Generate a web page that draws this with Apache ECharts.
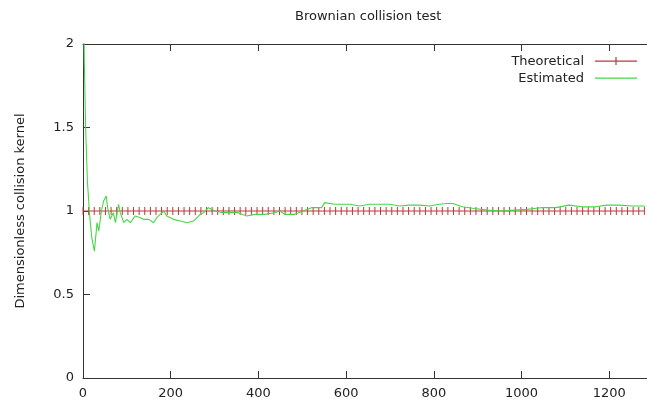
<!DOCTYPE html>
<html>
<head>
<meta charset="utf-8">
<script src="https://cdn.jsdelivr.net/npm/echarts@6/dist/echarts.min.js"></script>
<style>
html,body{margin:0;padding:0;background:#fff;}
#chart{width:647px;height:409px;}
</style>
</head>
<body>
<div id="chart"></div>
<script>
var titleText = 'Brownian collision test';
var yAxisTitle = 'Dimensionless collision kernel';
var seriesNames = ['Theoretical', 'Estimated'];
var xTicks = [0, 200, 400, 600, 800, 1000, 1200];
var yTicks = [0, 0.5, 1, 1.5, 2];

var theoreticalX = [0, 12.8, 25.6, 38.4, 51.2, 64, 76.8, 89.6, 102.4, 115.2, 128, 140.8, 153.6, 166.4, 179.2, 192, 204.8, 217.6, 230.4, 243.2, 256, 268.8, 281.6, 294.4, 307.2, 320, 332.8, 345.6, 358.4, 371.2, 384, 396.8, 409.6, 422.4, 435.2, 448, 460.8, 473.6, 486.4, 499.2, 512, 524.8, 537.6, 550.4, 563.2, 576, 588.8, 601.6, 614.4, 627.2, 640, 652.8, 665.6, 678.4, 691.2, 704, 716.8, 729.6, 742.4, 755.2, 768, 780.8, 793.6, 806.4, 819.2, 832, 844.8, 857.6, 870.4, 883.2, 896, 908.8, 921.6, 934.4, 947.2, 960, 972.8, 985.6, 998.4, 1011.2, 1024, 1036.8, 1049.6, 1062.4, 1075.2, 1088, 1100.8, 1113.6, 1126.4, 1139.2, 1152, 1164.8, 1177.6, 1190.4, 1203.2, 1216, 1228.8, 1241.6, 1254.4, 1267.2, 1280];
var theoreticalY = [1, 1, 1, 1, 1, 1, 1, 1, 1, 1, 1, 1, 1, 1, 1, 1, 1, 1, 1, 1, 1, 1, 1, 1, 1, 1, 1, 1, 1, 1, 1, 1, 1, 1, 1, 1, 1, 1, 1, 1, 1, 1, 1, 1, 1, 1, 1, 1, 1, 1, 1, 1, 1, 1, 1, 1, 1, 1, 1, 1, 1, 1, 1, 1, 1, 1, 1, 1, 1, 1, 1, 1, 1, 1, 1, 1, 1, 1, 1, 1, 1, 1, 1, 1, 1, 1, 1, 1, 1, 1, 1, 1, 1, 1, 1, 1, 1, 1, 1, 1, 1];

var estimatedX = [0, 3, 6, 10, 15, 20, 26, 32, 36, 42, 47, 53, 56, 62, 69, 74, 81, 85, 93, 100, 108, 119, 131, 138, 150, 153, 161, 168, 176, 184, 191, 206, 222, 237, 252, 267, 275, 286, 301, 320, 339, 354, 373, 392, 415, 437, 449, 460, 483, 502, 521, 544, 551, 574, 597, 608, 631, 653, 676, 699, 722, 744, 767, 790, 812, 831, 843, 865, 892, 922, 953, 983, 1013, 1028, 1047, 1078, 1108, 1138, 1169, 1195, 1222, 1252, 1282];
var estimatedY = [2.6, 1.9, 1.5, 1.18, 0.98, 0.84, 0.76, 0.93, 0.88, 1.0, 1.06, 1.09, 1.02, 0.95, 0.99, 0.93, 1.04, 0.99, 0.93, 0.95, 0.93, 0.97, 0.96, 0.95, 0.95, 0.94, 0.93, 0.96, 0.98, 1.0, 0.97, 0.95, 0.94, 0.93, 0.94, 0.98, 0.99, 1.02, 1.0, 0.99, 0.99, 0.99, 0.97, 0.98, 0.98, 0.99, 1.0, 0.98, 0.98, 1.0, 1.02, 1.02, 1.05, 1.04, 1.04, 1.04, 1.03, 1.04, 1.04, 1.04, 1.03, 1.035, 1.035, 1.03, 1.04, 1.045, 1.045, 1.025, 1.015, 1.005, 1.0, 1.005, 1.01, 1.015, 1.02, 1.02, 1.035, 1.025, 1.025, 1.035, 1.035, 1.03, 1.03];

var FONT = 'DejaVu Sans';
var AXIS_COLOR = '#333';
var RED = '#b83a3a';
var GREEN = '#45d845';

function pairs(xs, ys) { return xs.map(function (x, i) { return [x, ys[i]]; }); }
function plainNum(v) { return String(v); }

var chart = echarts.init(document.getElementById('chart'), null, {renderer: 'canvas'});
var xMin = xTicks[0], xMax = 1286;
var commonX = {
  type: 'value', min: xMin, max: xMax, interval: xTicks[1] - xTicks[0],
  splitLine: {show: false},
  axisLine: {show: true, onZero: false, lineStyle: {color: AXIS_COLOR, width: 1}},
  axisTick: {show: true, inside: true, length: 7, lineStyle: {color: AXIS_COLOR}}
};
var legendCommon = {
  right: 10, padding: 0, align: 'right', itemWidth: 48, itemHeight: 10,
  selectedMode: false,
  itemStyle: {borderWidth: 0, borderColor: 'transparent'},
  lineStyle: {width: 0},
  textStyle: {fontFamily: FONT, fontSize: 13, color: '#222'}
};
chart.setOption({
  animation: false,
  backgroundColor: '#fff',
  title: {
    text: titleText, left: 290, top: 5,
    textStyle: {fontFamily: FONT, fontSize: 13, fontWeight: 'normal', color: '#222'}
  },
  legend: [
    Object.assign({}, legendCommon, {
      top: 55,
      data: [{name: seriesNames[0], icon: 'path://M0,0 H0.01 V10 H0 Z M6,4 H48 V5.3 H6 Z M26.4,0.5 H27.6 V8.5 H26.4 Z',
              itemStyle: {color: RED, borderWidth: 0}}]
    }),
    Object.assign({}, legendCommon, {
      top: 72,
      data: [{name: seriesNames[1], icon: 'path://M0,0 H0.01 V10 H0 Z M6,4 H48 V5.3 H6 Z',
              itemStyle: {color: GREEN, borderWidth: 0}}]
    })
  ],
  grid: {left: 83, right: 0, top: 44, bottom: 31, containLabel: false},
  xAxis: [
    Object.assign({}, commonX, {
      position: 'bottom',
      axisLabel: {show: true, margin: 9, showMaxLabel: false, formatter: plainNum, fontFamily: FONT, fontSize: 13, color: '#222'}
    }),
    Object.assign({}, commonX, {
      position: 'top', gridIndex: 0,
      axisLabel: {show: false}
    })
  ],
  yAxis: {
    type: 'value', min: yTicks[0], max: yTicks[yTicks.length - 1], interval: yTicks[1] - yTicks[0],
    name: yAxisTitle, nameLocation: 'middle', nameGap: 56, nameRotate: 90,
    nameTextStyle: {fontFamily: FONT, fontSize: 13, color: '#222'},
    splitLine: {show: false},
    axisLine: {show: true, lineStyle: {color: AXIS_COLOR, width: 1}},
    axisTick: {show: true, inside: true, length: 7, lineStyle: {color: AXIS_COLOR}},
    axisLabel: {margin: 9, formatter: plainNum, fontFamily: FONT, fontSize: 13, color: '#222'}
  },
  series: [
    {
      name: seriesNames[0], type: 'line', xAxisIndex: 0,
      data: pairs(theoreticalX, theoreticalY),
      symbol: 'rect', symbolSize: [1, 8], showAllSymbol: true,
      itemStyle: {color: RED},
      lineStyle: {color: RED, width: 1},
      z: 2
    },
    {
      name: seriesNames[1], type: 'line', xAxisIndex: 0,
      data: pairs(estimatedX, estimatedY),
      showSymbol: false, symbol: 'none',
      itemStyle: {color: GREEN},
      lineStyle: {color: GREEN, width: 1.1},
      z: 3
    }
  ]
});
</script>
</body>
</html>
